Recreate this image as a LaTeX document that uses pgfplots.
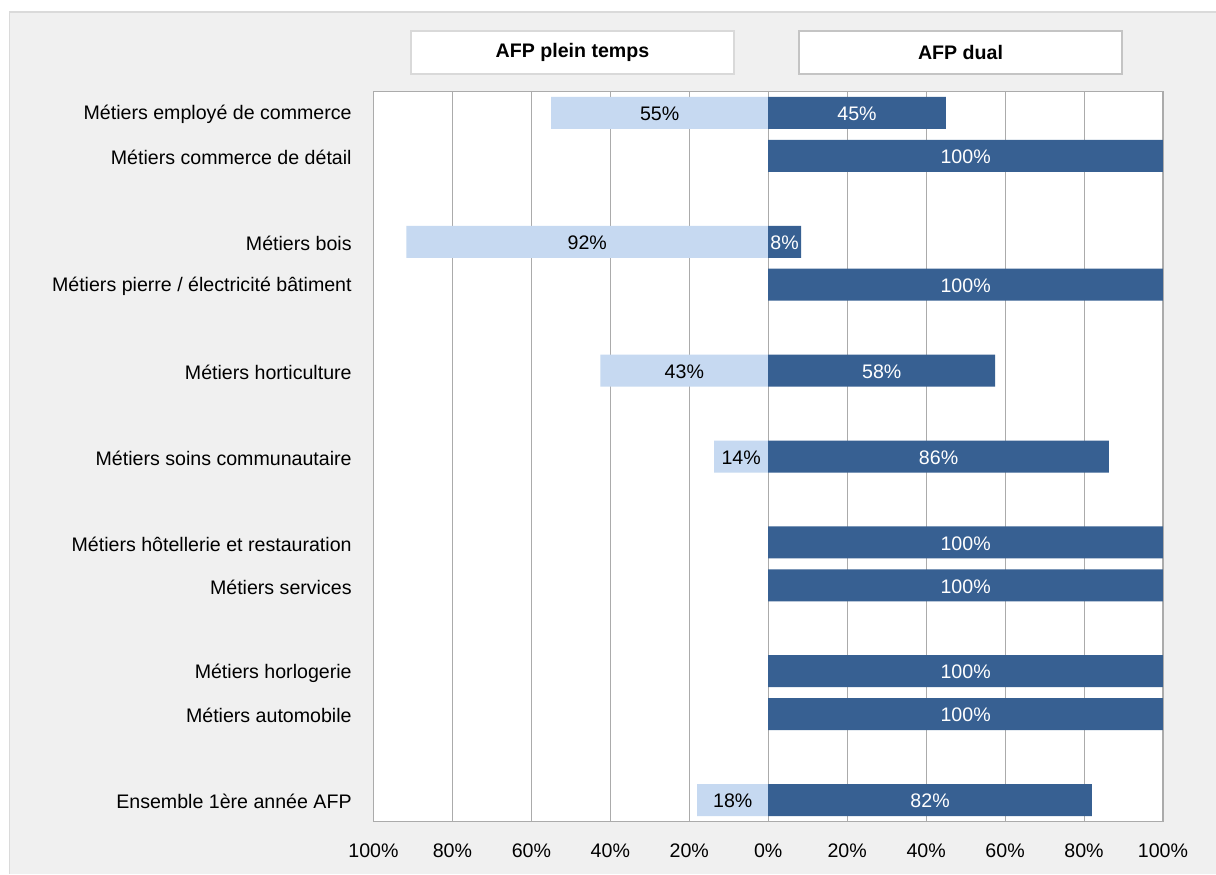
\documentclass[border=0pt]{standalone}
\usepackage{pgfplots}
\pgfplotsset{compat=1.18}
\usepackage{fontspec}
\setmainfont{Liberation Sans}
\definecolor{lightbar}{HTML}{C6D9F1}
\definecolor{darkbar}{HTML}{376092}
\definecolor{panel}{HTML}{F0F0F0}
\definecolor{panelborder}{HTML}{DADADA}
\definecolor{gridc}{HTML}{ABABAB}
\definecolor{boxborder}{HTML}{D9D9D9}
\definecolor{boxborderb}{HTML}{C4C4C4}

\pgfplotstableread{
x y
-55 0
-91.7 3
-42.5 6
-13.7 8
-18 16
}\plein
\pgfplotstableread{
x y
45 0
100 1
8.3 3
100 4
57.5 6
86.3 8
100 10
100 11
100 13
100 14
82 16
}\dual
\pgfplotstableread{
x y lab
-27.5 0 55
-45.85 3 92
-21.25 6 43
-6.85 8 14
-9 16 18
}\pleinlab
\pgfplotstableread{
x y lab
22.5 0 45
50 1 100
4.15 3 8
50 4 100
28.75 6 58
43.15 8 86
50 10 100
50 11 100
50 13 100
50 14 100
41 16 82
}\duallab

\begin{document}
\begin{tikzpicture}[font=\fontsize{9.8}{12}\selectfont]
\useasboundingbox (-186.75pt,-26.25pt) rectangle (421.25pt,410.75pt);
\fill[panel] (-182pt,-26.25pt) rectangle (421.25pt,404.75pt);
\draw[panelborder, line width=0.8pt] (-182pt,-26.25pt) -- (-182pt,404.75pt) -- (421.25pt,404.75pt);
\begin{axis}[
  at={(0pt,0pt)}, anchor=south west,
  scale only axis, width=394.75pt, height=365pt,
  xmin=-100, xmax=100, ymin=-0.5, ymax=16.5, y dir=reverse,
  axis background/.style={fill=white},
  xtick={-100,-80,-60,-40,-20,0,20,40,60,80,100},
  xticklabels={100\%,80\%,60\%,40\%,20\%,0\%,20\%,40\%,60\%,80\%,100\%},
  ytick={0,1,3,4,6,8,10,11,13,14,16},
  yticklabels={Métiers employé de commerce,Métiers commerce de détail,Métiers bois,Métiers pierre / électricité bâtiment,Métiers horticulture,Métiers soins communautaire,Métiers hôtellerie et restauration,Métiers services,Métiers horlogerie,Métiers automobile,Ensemble 1ère année AFP},
  tick label style={font=\fontsize{9.8}{12}\selectfont, text=black},
  xticklabel style={yshift=-7.5pt},
  yticklabel style={xshift=-7.4pt, yshift=-0.8pt},
  major tick length=0pt,
  xmajorgrids, grid style={gridc, line width=0.5pt},
  axis line style={gridc, line width=0.6pt},
]
\addplot[xbar, bar width=16pt, bar shift=0pt, fill=lightbar, draw=none] table[x=x,y=y] {\plein};
\addplot[xbar, bar width=16pt, bar shift=0pt, fill=darkbar, draw=none] table[x=x,y=y] {\dual};
\addplot[only marks, mark=none, point meta=explicit symbolic,
  nodes near coords={\pgfplotspointmeta\%},
  nodes near coords style={anchor=center, yshift=-0.5pt, text=black, font=\fontsize{9.8}{12}\selectfont}]
  table[x=x,y=y,meta=lab] {\pleinlab};
\addplot[only marks, mark=none, point meta=explicit symbolic,
  nodes near coords={\pgfplotspointmeta\%},
  nodes near coords style={anchor=center, yshift=-0.5pt, text=white, font=\fontsize{9.8}{12}\selectfont}]
  table[x=x,y=y,meta=lab] {\duallab};
\end{axis}
\draw[boxborder, fill=white, line width=0.6pt] (18.75pt,373.75pt) rectangle (180.25pt,395.25pt);
\node[font=\fontsize{9.8}{12}\selectfont\bfseries] at (99.5pt,384.5pt) {AFP plein temps};
\draw[boxborderb, fill=white, line width=0.8pt] (212.75pt,373.75pt) rectangle (374.25pt,395.25pt);
\node[font=\fontsize{9.8}{12}\selectfont\bfseries] at (293.5pt,384.5pt) {AFP dual};
\end{tikzpicture}
\end{document}
